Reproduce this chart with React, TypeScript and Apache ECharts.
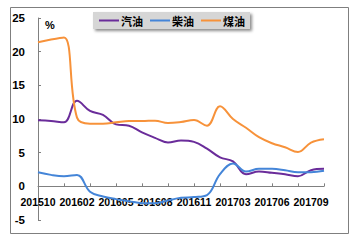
import React, { useEffect, useRef } from "react";
import * as echarts from "echarts";

const categories = [
  "201510", "201511", "201512",
  "201602", "201603", "201604", "201605", "201606", "201607", "201608", "201609", "201610", "201611", "201612",
  "201702", "201703", "201704", "201705", "201706", "201707", "201708", "201709", "201710",
];
const gasoline = [9.8, 9.7, 9.5, 12.7, 11.2, 10.6, 9.2, 9.0, 8.0, 7.2, 6.5, 6.8, 6.6, 5.6, 4.3, 3.7, 1.8, 2.2, 2.0, 1.8, 1.5, 2.4, 2.6];
const diesel = [2.1, 1.7, 1.5, 1.7, -0.8, -1.5, -1.9, -2.2, -2.5, -2.5, -2.1, -1.7, -1.6, -1.3, 1.8, 3.4, 2.2, 2.6, 2.6, 2.4, 2.1, 2.1, 2.3];
const kerosene = [21.4, 21.8, 22.1, 10.2, 9.3, 9.3, 9.5, 9.7, 9.7, 9.75, 9.4, 9.55, 9.85, 9.0, 11.9, 10.0, 8.7, 7.3, 6.4, 5.8, 5.1, 6.5, 7.0];
const seriesNames = ["汽油", "柴油", "煤油"];
const colors = ["#6A2C9A", "#4485D8", "#F7923A"];

export default function App() {
  const ref = useRef<HTMLDivElement>(null);
  useEffect(() => {
    const chart = echarts.init(ref.current!, null, { renderer: "svg" });
    const font = "'Liberation Sans', Arial, 'Noto Sans CJK SC', sans-serif";
    const datas = [gasoline, diesel, kerosene];
    const gridTop = 18;
    const gridBottom = 21;
    const gridHeight = 241 - gridTop - gridBottom;
    const zeroOffset = (gridHeight * 5) / 30;
    chart.setOption({
      animation: false,
      backgroundColor: "#ffffff",
      grid: { left: 38, right: 33, top: gridTop, bottom: gridBottom, containLabel: false },
      legend: {
        left: 93,
        top: 12,
        padding: [3, 5, 3, 6],
        itemWidth: 20,
        itemHeight: 2,
        itemGap: 7,
        icon: "rect",
        backgroundColor: "#d6d6d6",
        shadowColor: "rgba(0,0,0,0.45)",
        shadowBlur: 3,
        shadowOffsetX: 2,
        shadowOffsetY: 2,
        textStyle: { fontSize: 11, fontWeight: "bold", color: "#000", fontFamily: "'Noto Sans CJK SC', sans-serif", padding: [0, 0, 0, -3] },
        data: seriesNames,
      },
      xAxis: {
        type: "category",
        data: categories,
        boundaryGap: false,
        offset: -zeroOffset,
        axisLine: { onZero: false, lineStyle: { color: "#808080", width: 1 } },
        axisTick: { show: true, inside: true, length: 3, interval: 1, lineStyle: { color: "#808080" } },
        axisLabel: { interval: 2, margin: 10, fontSize: 10.5, fontWeight: "bold", color: "#000", fontFamily: font },
        splitLine: { show: false },
      },
      yAxis: {
        type: "value",
        min: -5,
        max: 25,
        interval: 5,
        axisLine: { show: true, lineStyle: { color: "#808080", width: 1 } },
        axisTick: { show: true, inside: true, length: 3, lineStyle: { color: "#808080" } },
        axisLabel: { margin: 13, fontSize: 11.5, fontWeight: "bold", color: "#000", fontFamily: font },
        splitLine: { show: false },
      },
      graphic: {
        elements: [
          {
            type: "rect",
            left: 10,
            top: 7,
            z: 100,
            silent: true,
            shape: { width: 338, height: 226 },
            style: { fill: "rgba(0,0,0,0)", stroke: "#7f7f7f", lineWidth: 1 },
          },
          {
            type: "text",
            left: 45,
            top: 19,
            style: { text: "%", fontSize: 11, fontWeight: "bold", fill: "#000", fontFamily: font },
          },
        ],
      },
      series: seriesNames.map((name, i) => ({
        name,
        type: "line",
        data: datas[i],
        smooth: 0.4,
        symbol: "none",
        showSymbol: false,
        lineStyle: { color: colors[i], width: 2 },
        itemStyle: { color: colors[i] },
      })),
    });
    return () => chart.dispose();
  }, []);
  return <div ref={ref} style={{ position: "fixed", left: 0, top: 0, width: 357, height: 241 }} />;
}
